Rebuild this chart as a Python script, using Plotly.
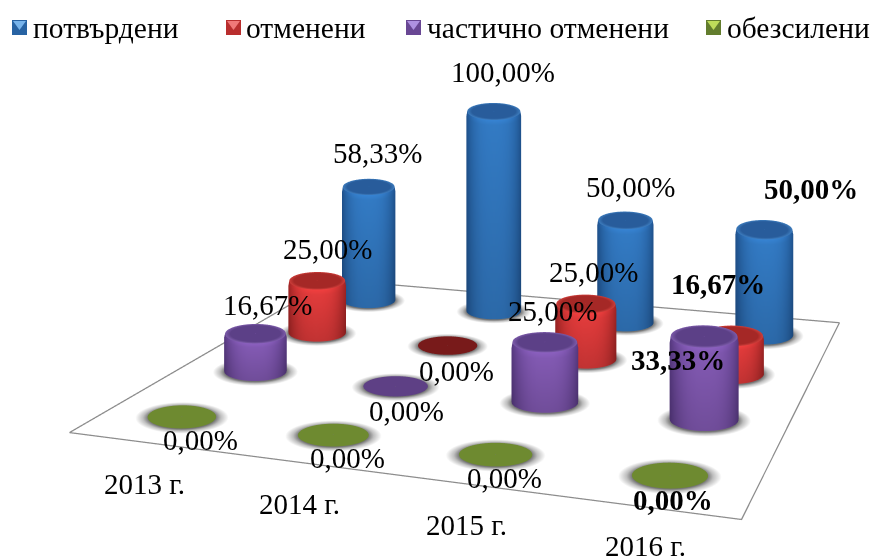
import numpy as np
import plotly.graph_objects as go

years = ["2013 г.", "2014 г.", "2015 г.", "2016 г."]
series = ["потвърдени", "отменени", "частично отменени", "обезсилени"]
potvardeni = [58.33, 100.0, 50.0, 50.0]
otmeneni = [25.0, 0.0, 25.0, 16.67]
chastichno = [16.67, 0.0, 25.0, 33.33]
obezsileni = [0.0, 0.0, 0.0, 0.0]
values = [potvardeni, otmeneni, chastichno, obezsileni]

# styles: (bright side, dark side, cap, rim, zero disk, legend light)
styles = [
    ((50, 120, 192), (30, 78, 135), (40, 92, 155), (62, 125, 190), (45, 95, 155), (120, 180, 235)),
    ((220, 58, 58), (150, 34, 34), (165, 40, 38), (205, 62, 58), (120, 26, 26), (240, 120, 120)),
    ((128, 88, 175), (82, 54, 122), (92, 64, 135), (125, 92, 170), (94, 64, 133), (175, 145, 225)),
    ((118, 146, 56), (80, 104, 36), (110, 138, 48), (118, 146, 56), (110, 138, 48), (190, 220, 90)),
]
label_dx = [[9, 9, 5, 47], [10, 9, 8, -14], [12, 11, 8, -26], [18, 14, 9, 3]]
label_dy = [[-34, -39, -33, -40], [-32, 25, -32, -52], [-29, 24, -31, 24], [23, 22, 23, 24]]
year_dx = [5, 2, 0, -4]
year_dy = [40, 40, 40, 37]

# scene geometry
EYE = (0.0, -1.732, 1.0)
O = np.array([-0.7868, -0.6537])
AX = np.array([1.355, -0.228])
AY = np.array([0.493, 0.648])
floor_x = [-0.7765, 0.5579, 1.0715, -0.304, -0.7765]
floor_y = [-0.6534, -0.8816, -0.234, -0.0057, -0.6534]
R = 0.075
RATIO = 0.31  # footprint height / width as seen in the picture
Z100 = 0.475
SHEAR = 0.577  # bars rise parallel to the picture plane
back_row_dx = [-0.003, 0.0055, 0.0133, 0.0207]
N = 48


def rgb(c, f=1.0):
    return "rgb(%d,%d,%d)" % tuple(min(255, int(v * f)) for v in c)


def base(i, j):
    p = O + AX * (i + 0.5) / 4 + AY * (3 - j + 0.5) / 4
    if j == 0:
        p = p + np.array([back_row_dx[i], 0.0])
    return p


def mix(a, b, t):
    return tuple(a[k] + (b[k] - a[k]) * t for k in range(3))


def add_mesh(fig, xs, ys, zs, tri, cols):
    t = np.array(tri)
    fig.add_trace(go.Mesh3d(x=xs, y=ys, z=zs, i=t[:, 0], j=t[:, 1], k=t[:, 2], vertexcolor=cols,
                            flatshading=False, hoverinfo="skip", showlegend=False,
                            lighting=dict(ambient=1, diffuse=0, specular=0, roughness=1, fresnel=0)))


def rings_mesh(fig, c, zlist, ylift, rlist, collist):
    """Concentric/stacked rings joined by quads."""
    th = np.linspace(0, 2 * np.pi, N, endpoint=False)
    xs, ys, zs, cols, tri = [], [], [], [], []
    fwd0 = 0.866 * (c[1] - EYE[1]) + 0.5
    skew = 0.85 * c[0] * 0.866 / fwd0
    for m, (z, lift, r) in enumerate(zip(zlist, ylift, rlist)):
        cy = c[1] + lift
        sin_el = (EYE[2] - z) / np.sqrt((EYE[2] - z) ** 2 + c[0] ** 2 + (cy - EYE[1]) ** 2)
        k = RATIO / sin_el
        for a in th:
            dy = r * k * np.sin(a)
            xs.append(c[0] + r * np.cos(a) + skew * dy)
            ys.append(cy + dy)
            zs.append(z)
            cols.append(collist[m](a))
    for m in range(len(zlist) - 1):
        for a_i in range(N):
            p = m * N + a_i
            q = m * N + (a_i + 1) % N
            tri += [[p, q, p + N], [q, q + N, p + N]]
    add_mesh(fig, xs, ys, zs, tri, cols)


fig = go.Figure()

# floor outline
fig.add_trace(go.Scatter3d(x=floor_x, y=floor_y, z=[0.004] * 5,
                           mode="lines", line=dict(color="#8c8c8c", width=2.5), hoverinfo="skip", showlegend=False))

annotations = []
for j, row in enumerate(values):
    bright, dark, cap, rim, zero, _ = styles[j]
    for i, val in enumerate(row):
        c = base(i, j)
        # soft shadow
        g = (115, 115, 115)
        w = (255, 255, 255)
        rings_mesh(fig, c, [0, 0, 0, 0], [0] * 4, [0.001, R * 0.98, R * 1.14, R * 1.36],
                   [lambda a: rgb(g), lambda a: rgb(g), lambda a: rgb(mix(g, w, 0.55)), lambda a: rgb(w)])
        h = Z100 * val / 100
        lift = SHEAR * h
        if val == 0:
            rings_mesh(fig, c, [0.002, 0.002], [0, 0], [0.001, R], [lambda a: rgb(zero), lambda a: rgb(zero)])
        else:
            def side(f):
                def shade(a):
                    t = abs(np.cos(a)) ** 3.0
                    return rgb(mix(bright, dark, t), f)
                return shade
            z1, z2 = 0.002, h - min(0.012, h * 0.1)
            rings_mesh(fig, c, [z1, z2, h], [SHEAR * z1, SHEAR * z2, lift], [R, R, R * 0.97],
                       [side(0.88), side(1.02), side(1.1)])
            # cap
            rings_mesh(fig, c, [h, h, h], [lift] * 3, [0.001, R * 0.8, R * 0.97],
                       [lambda a: rgb(cap), lambda a: rgb(cap), lambda a: rgb(rim)])
        bold = i == 3
        txt = ("%.2f" % val).replace(".", ",") + "%"
        annotations.append(dict(x=c[0], y=c[1] + lift, z=h, text="<b>%s</b>" % txt if bold else txt,
                                showarrow=False, xanchor="center", yanchor="middle",
                                xshift=label_dx[j][i], yshift=-label_dy[j][i],
                                font=dict(family="Liberation Serif", size=29, color="black")))

for i, y in enumerate(years):
    p = O + AX * (i + 0.5) / 4
    annotations.append(dict(x=p[0], y=p[1], z=0, text=y, showarrow=False, xanchor="center", yanchor="middle",
                            xshift=year_dx[i], yshift=-year_dy[i],
                            font=dict(family="Liberation Serif", size=29, color="black")))

# legend
W, H = 872, 560
swatch_x = [12, 226, 406, 706]
text_x = [31, 244, 425, 725]
shapes, legend_notes = [], []
for s, name in enumerate(series):
    bright, dark, cap, rim, zero, light = styles[s]
    x0, x1 = swatch_x[s] / W, (swatch_x[s] + 15) / W
    y0, y1 = 1 - 35 / H, 1 - 20 / H
    shapes.append(dict(type="rect", xref="paper", yref="paper", x0=x0, x1=x1, y0=y0, y1=y1,
                       fillcolor=rgb(mix(bright, dark, 0.5)), line=dict(width=0)))
    shapes.append(dict(type="path", xref="paper", yref="paper",
                       path="M %f %f L %f %f L %f %f Z" % (x0 + 1 / W, y1 - 1 / H, x1 - 1 / W, y1 - 1 / H, (x0 + x1) / 2, y0 + 5 / H),
                       fillcolor=rgb(light), line=dict(width=0)))
    legend_notes.append(dict(xref="paper", yref="paper", x=text_x[s] / W, y=1 - 28 / H, text=name, showarrow=False,
                             xanchor="left", yanchor="middle",
                             font=dict(family="Liberation Serif", size=29.5, color="black")))

hidden = dict(visible=False, range=[-1.2, 1.2], autorange=False)
fig.update_layout(
    width=W, height=H, margin=dict(l=0, r=0, t=0, b=0), paper_bgcolor="white", showlegend=False,
    shapes=shapes, annotations=legend_notes,
    scene=dict(domain=dict(x=[0, 1], y=[0, 1]), bgcolor="rgba(0,0,0,0)",
               xaxis=hidden, yaxis=hidden, zaxis=hidden,
               aspectmode="manual", aspectratio=dict(x=2.4, y=2.4, z=2.4),
               camera=dict(eye=dict(x=EYE[0], y=EYE[1], z=EYE[2]), center=dict(x=0, y=0, z=0), up=dict(x=0, y=0, z=1)),
               annotations=annotations),
)
fig.write_html("out.html", config=dict(displayModeBar=False),
               post_script="document.body.style.margin='0';document.body.style.overflow='hidden';")
